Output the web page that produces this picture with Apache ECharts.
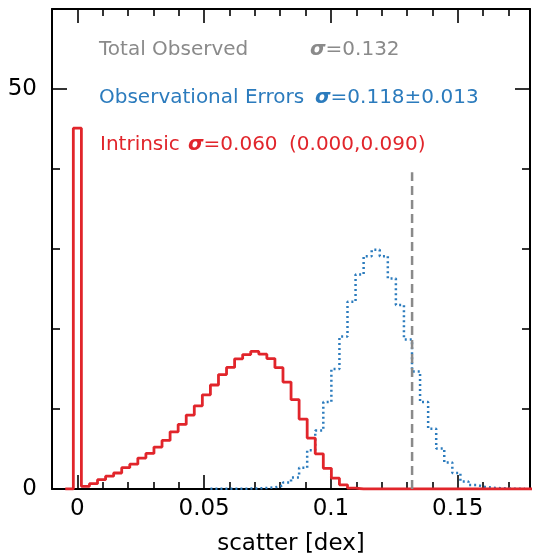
<!DOCTYPE html>
<html><head><meta charset="utf-8">
<script src="https://cdn.jsdelivr.net/npm/echarts@6/dist/echarts.min.js"></script>
<style>html,body{margin:0;padding:0;background:#fff}#c{width:533px;height:558px}</style>
</head><body><div id="c"></div>
<script>
// ---- data ----
const binWidth = 0.00318;
const intrinsicFirstBin = -1;
const intrinsicCounts = [0, 45.1, 0.33, 0.66, 1.16, 1.6, 2.0, 2.66, 3.1, 3.87, 4.45, 5.24, 6.07, 7.15, 8.07, 9.24,
  10.4, 11.77, 13.0, 14.3, 15.2, 16.27, 16.8, 17.2, 16.85, 16.3, 15.17, 13.36, 11.17, 8.74, 6.37, 4.4, 2.58, 1.35,
  0.52, 0.12, 0, 0, 0, 0, 0, 0, 0, 0, 0, 0, 0, 0, 0, 0, 0, 0, 0, 0, 0, 0, 0, 0, 0];
const errorsFirstBin = 17;
const errorsCounts = [0.02, 0.02, 0.03, 0.04, 0.05, 0.07, 0.12, 0.2, 0.42, 0.8, 1.45, 2.65, 4.85, 7.3, 10.86, 15.0,
  19.05, 23.4, 26.8, 29.1, 29.9, 29.1, 26.3, 23.0, 18.7, 14.7, 10.86, 7.53, 5.07, 3.32, 2.0, 0.95, 0.5, 0.27, 0.15,
  0.1, 0.05, 0.04, 0.03];
const totalObservedSigma = 0.132;
const totalObservedLineTop = 39.6;
const xMajorTicks = [0, 0.05, 0.1, 0.15];
const xMinorTicks = [0.01, 0.02, 0.03, 0.04, 0.06, 0.07, 0.08, 0.09, 0.11, 0.12, 0.13, 0.14, 0.16, 0.17];
const yMajorTicks = [0, 50];
const yMinorTicks = [10, 20, 30, 40];
const xMin = -0.01, xMax = 0.1785, yMin = 0, yMax = 60;

// ---- helpers ----
function histPoints(first, counts) {
  const pts = counts.map((v, i) => [(first + i - 0.5) * binWidth, v]);
  pts.push([(first + counts.length - 0.5) * binWidth, counts[counts.length - 1]]);
  return pts;
}
const FONT = 'DejaVu Sans';
const AX_FS = 23, TXT_FS = 20;
const tickStyle = {color: '#000', width: 1.6};
function xAx(pos, major, labels) {
  return {
    type: 'value', position: pos, min: xMin, max: xMax,
    axisLine: {show: major, onZero: false, lineStyle: {color: '#000', width: 2}},
    axisTick: {show: true, inside: true, length: major ? 14 : 7, customValues: major ? xMajorTicks : xMinorTicks, lineStyle: tickStyle},
    axisLabel: labels ? {show: true, customValues: xMajorTicks, fontSize: AX_FS, color: '#000', fontFamily: FONT, margin: 9} : {show: false},
    splitLine: {show: false}
  };
}
function yAx(pos, major, labels) {
  return {
    type: 'value', position: pos, min: yMin, max: yMax,
    axisLine: {show: major, onZero: false, lineStyle: {color: '#000', width: 2}},
    axisTick: {show: true, inside: true, length: major ? 15 : 8, customValues: major ? yMajorTicks : yMinorTicks, lineStyle: tickStyle},
    axisLabel: labels ? {show: true, customValues: yMajorTicks, fontSize: AX_FS, color: '#000', fontFamily: FONT, margin: 15} : {show: false},
    splitLine: {show: false}
  };
}
const xBottom = xAx('bottom', true, true);
xBottom.name = 'scatter [dex]';
xBottom.nameLocation = 'middle';
xBottom.nameGap = 44;
xBottom.nameTextStyle = {fontSize: AX_FS, color: '#000', fontFamily: FONT};

function txt(x, y, text, color) {
  return {
    type: 'text', z: 100,
    style: {
      x: x, y: y, text: text, fill: color, verticalAlign: 'middle',
      font: TXT_FS + 'px "DejaVu Sans"',
      rich: {
        s: {fill: color, fontFamily: FONT, fontSize: TXT_FS, fontWeight: 'bold', fontStyle: 'italic'},
        n: {fill: color, fontFamily: FONT, fontSize: TXT_FS}
      }
    }
  };
}
const GRAY = '#8a8a8a', BLUE = '#2b7bbd', RED = '#e1252b';

const chart = echarts.init(document.getElementById('c'));
chart.setOption({
  animation: false,
  backgroundColor: '#fff',
  grid: {left: 52, right: 3, top: 9, bottom: 69, containLabel: false, outerBoundsMode: 'none'},
  xAxis: [xBottom, xAx('bottom', false, false), xAx('top', true, false), xAx('top', false, false)],
  yAxis: [yAx('left', true, true), yAx('left', false, false), yAx('right', true, false), yAx('right', false, false)],
  series: [
    {type: 'line', xAxisIndex: 0, yAxisIndex: 0, step: 'end', symbol: 'none', z: 2,
     data: histPoints(errorsFirstBin, errorsCounts),
     lineStyle: {color: BLUE, width: 2.5, type: [2, 3]}},
    {type: 'line', xAxisIndex: 0, yAxisIndex: 0, step: 'end', symbol: 'none', z: 3,
     data: histPoints(intrinsicFirstBin, intrinsicCounts),
     lineStyle: {color: RED, width: 2.8}},
    {type: 'line', xAxisIndex: 0, yAxisIndex: 0, symbol: 'none', z: 4,
     data: [[totalObservedSigma, 0], [totalObservedSigma, totalObservedLineTop]],
     lineStyle: {color: GRAY, width: 2.5, type: [9, 5]}}
  ],
  graphic: [
    txt(99, 50, '{n|Total Observed}', GRAY),
    txt(310, 50, '{s|σ}{n|=0.132}', GRAY),
    txt(99, 98, '{n|Observational Errors}', BLUE),
    txt(315, 98, '{s|σ}{n|=0.118±0.013}', BLUE),
    txt(100, 145, '{n|Intrinsic}', RED),
    txt(188, 145, '{s|σ}{n|=0.060}', RED),
    txt(289, 145, '{n|(0.000,0.090)}', RED)
  ]
});
</script>
</body></html>
